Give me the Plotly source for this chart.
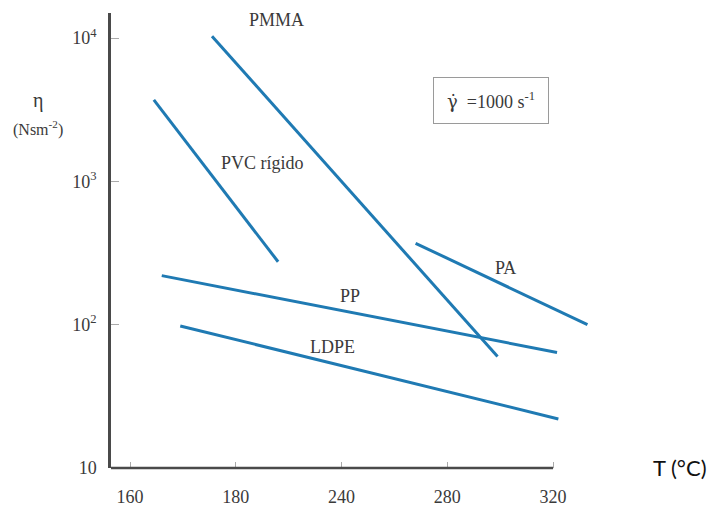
import plotly.graph_objects as go

# Viscosity vs. temperature at a shear rate of 1000 s^-1 (log scale)
polymers = ["PMMA", "PVC rígido", "PP", "LDPE", "PA"]
temp_start = [191, 169, 172, 179, 268]
temp_end = [299, 216, 321.5, 322, 333]
eta_start = [10300, 3700, 220, 98, 370]
eta_end = [60, 275, 64, 22, 100]

x_tickvals = [160, 200, 240, 280, 320]
x_ticktext = ["160", "180", "240", "280", "320"]
y_tickvals = [10, 100, 1000, 10000]
y_ticktext = ["10", "10<sup>2</sup>", "10<sup>3</sup>", "10<sup>4</sup>"]

W, H = 713, 513
L, R, T, B = 111, 113, 13, 45
PW, PH = W - L - R, H - T - B
X_PER_PX = 1 / 2.644
X_MIN = 152.8

LINE_COLOR = "#1f7ab3"
TEXT_COLOR = "#3a3a3a"
SERIF = "Liberation Serif, Times New Roman, DejaVu Serif, serif"


def px(x):
    return (x - L) / PW


def py(y):
    return (H - B - y) / PH


fig = go.Figure()
for name, x0, x1, y0, y1 in zip(polymers, temp_start, temp_end, eta_start, eta_end):
    fig.add_trace(go.Scatter(
        x=[x0, x1], y=[y0, y1], mode="lines", name=name,
        line=dict(color=LINE_COLOR, width=3), showlegend=False,
    ))

# Curve labels
label_pos = {
    "PMMA": (276, 20),
    "PVC rígido": (262, 163),
    "PP": (350, 296),
    "LDPE": (332, 347),
    "PA": (505, 268),
}
annotations = []
for name, (ax_, ay_) in label_pos.items():
    annotations.append(dict(
        text=name, x=px(ax_), y=py(ay_), xref="paper", yref="paper",
        xanchor="center", yanchor="middle",
        showarrow=False, font=dict(family=SERIF, size=18, color=TEXT_COLOR),
    ))

# Shear-rate symbol: gamma with a combining dot above, in a font that stacks it
gamma_dot = '<span style="font-family:DejaVu Serif">γ\u0307</span>'

# Axis titles and shear-rate box
annotations += [
    dict(text="η", x=px(38), y=py(101), xref="paper", yref="paper", showarrow=False,
         xanchor="center", yanchor="middle",
         font=dict(family=SERIF, size=20, color=TEXT_COLOR)),
    dict(text="(Nsm<sup>-2</sup>)", x=px(38), y=py(128), xref="paper", yref="paper",
         xanchor="center", yanchor="middle", showarrow=False,
         font=dict(family=SERIF, size=16, color=TEXT_COLOR)),
    dict(text="T (°C)", x=px(680), y=py(467), xref="paper", yref="paper", showarrow=False,
         xanchor="center", yanchor="middle",
         font=dict(family="Lato, Open Sans, sans-serif", size=22, color="#111111")),
    dict(text=gamma_dot + "  =1000 s<sup>-1</sup>", x=px(491), y=py(100),
         xref="paper", yref="paper", xanchor="center", yanchor="middle",
         showarrow=False, width=112, height=43, bordercolor="#9a9a9a", borderwidth=1,
         font=dict(family=SERIF, size=18, color=TEXT_COLOR)),
]

fig.update_layout(
    width=W, height=H,
    margin=dict(l=L, r=R, t=T, b=B, autoexpand=False),
    paper_bgcolor="white", plot_bgcolor="white",
    annotations=annotations,
    shapes=[dict(type="line", xref="x", yref="y domain", x0=X_MIN, x1=320, y0=0, y1=0,
                 line=dict(color="#4a4a4a", width=2.5))],
    xaxis=dict(
        range=[X_MIN, X_MIN + PW * X_PER_PX], showgrid=False, zeroline=False, showline=False,
        automargin=False,
        tickmode="array", tickvals=x_tickvals, ticktext=x_ticktext,
        ticks="inside", ticklen=6, tickcolor="#aaaaaa", tickwidth=1,
        ticklabelstandoff=16,
        tickfont=dict(family=SERIF, size=18, color=TEXT_COLOR),
    ),
    yaxis=dict(
        type="log", range=[1, 4.175], showgrid=False, zeroline=False,
        showline=True, linecolor="#4a4a4a", linewidth=2.5, automargin=False,
        tickmode="array", tickvals=y_tickvals, ticktext=y_ticktext,
        ticks="inside", ticklen=8, tickcolor="#aaaaaa", tickwidth=1,
        ticklabelstandoff=8,
        tickfont=dict(family=SERIF, size=18, color=TEXT_COLOR),
    ),
)

fig.write_html("out.html")
